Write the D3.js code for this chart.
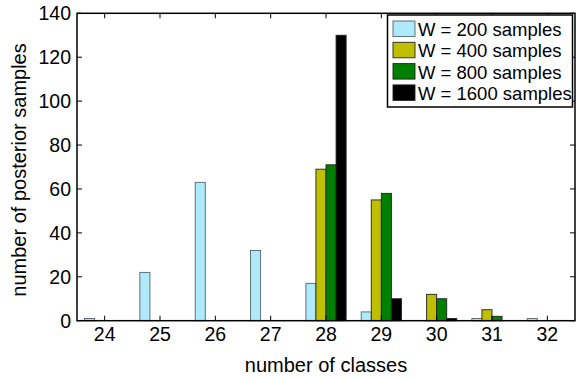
<!DOCTYPE html>
<html>
<head>
<meta charset="utf-8">
<script src="https://cdn.jsdelivr.net/npm/d3@7"></script>
<style>
  body { margin: 0; background: #fff; }
  text { font-family: "Liberation Sans", Arial, Helvetica, sans-serif; fill: #000; }
</style>
</head>
<body>
<div id="chart"></div>
<script>
// number of classes on the x axis
const classes = [24, 25, 26, 27, 28, 29, 30, 31, 32];
const seriesNames = ['W = 200 samples', 'W = 400 samples', 'W = 800 samples', 'W = 1600 samples'];
const seriesColors = ['#aeeaf9', '#bfbf00', '#008000', '#000000'];
// posterior sample counts per class, one array per W
const w200 = [1, 22, 63, 32, 17, 4, 0, 1, 1];
const w400 = [0, 0, 0, 0, 69, 55, 12, 5, 0];
const w800 = [0, 0, 0, 0, 71, 58, 10, 2, 0];
const w1600 = [0, 0, 0, 0, 130, 10, 1, 0, 0];
const yTicks = [0, 20, 40, 60, 80, 100, 120, 140];

const width = 576, height = 380;
const margin = { left: 77, right: 1, top: 13.3, bottom: 59.3 };

const svg = d3.select('#chart').append('svg')
    .attr('width', width)
    .attr('height', height);

const x = d3.scaleLinear()
    .domain([23.5, 32.5])
    .range([margin.left, width - margin.right]);
const y = d3.scaleLinear()
    .domain([0, 140])
    .range([height - margin.bottom, margin.top]);

// matlab style grouped bars
const groupWidth = Math.min(0.8, 4 / 5.5);
const barW = groupWidth / 4;
const series = [w200, w400, w800, w1600];

series.forEach((vals, si) => {
  const off = -groupWidth / 2 + si * barW;
  svg.append('g').selectAll('rect')
      .data(vals.map((v, i) => ({ c: classes[i], v: v })).filter(d => d.v > 0))
    .enter().append('rect')
      .attr('x', d => x(d.c + off))
      .attr('width', d => x(d.c + off + barW) - x(d.c + off))
      .attr('y', d => y(d.v))
      .attr('height', d => y(0) - y(d.v))
      .attr('fill', seriesColors[si])
      .attr('stroke', si === 0 ? '#55646a' : '#222')
      .attr('stroke-width', 0.9);
});

// box + inward ticks on all four sides
const x0 = x.range()[0], x1 = x.range()[1], y0 = y.range()[0], y1 = y.range()[1];
const tickLen = 5;

svg.append('g').selectAll('line.xt')
    .data(classes)
  .enter().append('line')
    .attr('x1', d => x(d)).attr('x2', d => x(d))
    .attr('y1', y0).attr('y2', y0 - tickLen)
    .attr('stroke', '#000');
svg.append('g').selectAll('line.xtt')
    .data(classes)
  .enter().append('line')
    .attr('x1', d => x(d)).attr('x2', d => x(d))
    .attr('y1', y1).attr('y2', y1 + tickLen)
    .attr('stroke', '#000');
svg.append('g').selectAll('line.yt')
    .data(yTicks)
  .enter().append('line')
    .attr('x1', x0).attr('x2', x0 + tickLen)
    .attr('y1', d => y(d)).attr('y2', d => y(d))
    .attr('stroke', '#000');
svg.append('g').selectAll('line.ytr')
    .data(yTicks)
  .enter().append('line')
    .attr('x1', x1).attr('x2', x1 - tickLen)
    .attr('y1', d => y(d)).attr('y2', d => y(d))
    .attr('stroke', '#000');

svg.append('rect')
    .attr('x', x0).attr('y', y1)
    .attr('width', x1 - x0).attr('height', y0 - y1)
    .attr('fill', 'none')
    .attr('stroke', '#000')
    .attr('stroke-width', 1.5);

// tick labels
svg.append('g').selectAll('text')
    .data(classes)
  .enter().append('text')
    .attr('x', d => x(d))
    .attr('y', y0 + 20.5)
    .attr('text-anchor', 'middle')
    .style('font-size', '19.5px')
    .text(d => d);

svg.append('g').selectAll('text')
    .data(yTicks)
  .enter().append('text')
    .attr('x', x0 - 6)
    .attr('y', d => y(d))
    .attr('dy', '0.35em')
    .attr('text-anchor', 'end')
    .style('font-size', '19.5px')
    .text(d => d);

// axis titles
svg.append('text')
    .attr('x', (x0 + x1) / 2)
    .attr('y', 372)
    .attr('text-anchor', 'middle')
    .style('font-size', '20px')
    .text('number of classes');

svg.append('text')
    .attr('transform', 'translate(26,170) rotate(-90)')
    .attr('text-anchor', 'middle')
    .style('font-size', '20px')
    .text('number of posterior samples');

// legend
const legend = svg.append('g');
legend.append('rect')
    .attr('x', 387.5).attr('y', 15)
    .attr('width', 185).attr('height', 92)
    .attr('fill', '#fff')
    .attr('stroke', '#000')
    .attr('stroke-width', 1.5);

const items = legend.selectAll('g.item')
    .data(seriesNames)
  .enter().append('g')
    .attr('transform', (d, i) => 'translate(393,' + (21 + i * 21.3) + ')');
items.append('rect')
    .attr('width', 22).attr('height', 15.5)
    .attr('fill', (d, i) => seriesColors[i])
    .attr('stroke', (d, i) => i === 0 ? '#55646a' : '#222')
    .attr('stroke-width', 0.9);
items.append('text')
    .attr('x', 25)
    .attr('y', 15)
    .style('font-size', '18.5px')
    .text(d => d);
</script>
</body>
</html>
